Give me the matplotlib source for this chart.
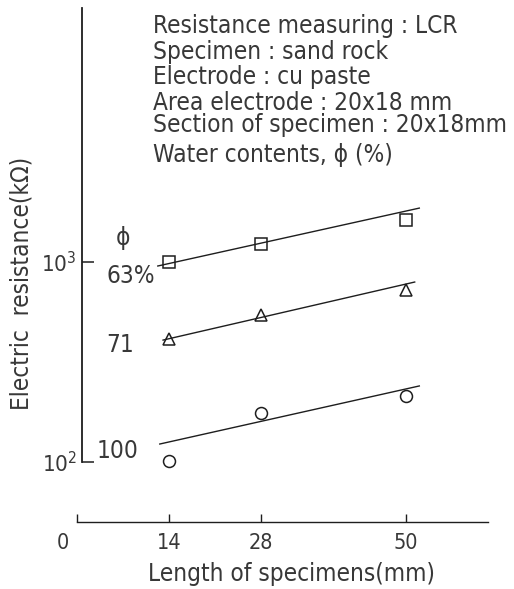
import matplotlib
matplotlib.use("Agg")
import matplotlib.pyplot as plt

# ---------------- data ----------------
lengths_mm = [14, 28, 50]
x_ticks = [0, 14, 28, 50]
x_tick_labels = ["", "14", "28", "50"]
y_ticks = [100, 1000]
y_tick_labels = [r"$\mathregular{10^2}$", r"$\mathregular{10^3}$"]

series_names = ["63%", "71", "100"]          # water content phi (%)
res_63 = [1000, 1230, 1630]                   # kOhm
res_71 = [412, 543, 724]
res_100 = [101, 176, 214]

# hand-drawn trend lines (start / end)
line_63_x = [12.3, 52.1]
line_63_r = [955, 1860]
line_71_x = [13.1, 51.4]
line_71_r = [407, 794]
line_100_x = [12.6, 52.1]
line_100_r = [123, 240]

info_lines = [
    "Resistance measuring : LCR",
    "Specimen : sand rock",
    "Electrode : cu paste",
    "Area electrode : 20x18 mm",
    "Section of specimen : 20x18mm",
    "Water contents, \u03d5 (%)",
]

# ---------------- style ----------------
W, H = 514, 589
INK = "#1e1e1e"
TXT = "#383838"
FONT = dict(family="DejaVu Sans", stretch="condensed")

plt.rcParams["font.family"] = ["DejaVu Sans"]
plt.rcParams["font.stretch"] = "condensed"

fig = plt.figure(figsize=(W / 100, H / 100), dpi=100)


def px(x, y):
    return x / W, 1 - y / H


ax_left, ax_right, ax_top, ax_bot = 77, 488, 8, 522
ax = fig.add_axes([ax_left / W, 1 - ax_bot / H, (ax_right - ax_left) / W, (ax_bot - ax_top) / H])
ax.patch.set_alpha(0)

px_per_mm = 6.57
ax.set_xlim(0, (ax_right - ax_left) / px_per_mm)
ax.set_yscale("log")
# 200 px per decade, 10^3 at y=262 px
ax.set_ylim(10 ** (3 - (ax_bot - 262) / 200), 10 ** (3 + (262 - ax_top) / 200))

for s in ("top", "right"):
    ax.spines[s].set_visible(False)
ax.spines["left"].set_position(("data", 0.8))
ax.spines["left"].set_bounds(100, ax.get_ylim()[1])
ax.spines["left"].set_linewidth(1.3)
ax.spines["left"].set_color(INK)
ax.spines["bottom"].set_bounds(0, ax.get_xlim()[1])
ax.spines["bottom"].set_linewidth(1.0)
ax.spines["bottom"].set_color(INK)

ax.set_xticks(x_ticks, labels=x_tick_labels)
ax.set_yticks(y_ticks, labels=y_tick_labels)
ax.yaxis.set_minor_locator(matplotlib.ticker.NullLocator())
ax.tick_params(axis="x", direction="in", length=6, width=1.0, color=INK, pad=8,
               labelsize=15.5, labelcolor=TXT)
ax.tick_params(axis="y", direction="in", length=8.5, width=1.1, color=INK, pad=4,
               labelsize=16, labelcolor=TXT)
for lab in ax.get_xticklabels() + ax.get_yticklabels():
    lab.set_fontstretch("condensed")

# "0" label sits left of its tick in the reference
ax.annotate("0", xy=(0, 0), xycoords=("data", "axes fraction"), xytext=(-14, -11),
            textcoords="offset pixels", ha="center", va="top", fontsize=15.5, color=TXT, **FONT)

# ---------------- marks ----------------
mk = dict(linestyle="none", markerfacecolor="none", markeredgecolor=INK,
          markeredgewidth=1.1, markersize=8.6, clip_on=False)
ax.plot(lengths_mm, res_63, marker="s", **mk)
ax.plot(lengths_mm, res_71, marker="^", **{**mk, "markersize": 9.2})
ax.plot(lengths_mm, res_100, marker="o", **mk)

ln = dict(color=INK, linewidth=1.0, clip_on=False)
ax.plot(line_63_x, line_63_r, **ln)
ax.plot(line_71_x, line_71_r, **ln)
ax.plot(line_100_x, line_100_r, **ln)

# ---------------- texts ----------------
fs = 17.5
fig.text(*px(292, 574), "Length of specimens(mm)", ha="center", va="center",
         fontsize=fs, color=TXT, **FONT)
fig.text(*px(22, 283), "Electric  resistance(k\u03a9)", ha="center", va="center",
         rotation=90, fontsize=fs, color=TXT, **FONT)

baselines = [33, 59, 84, 110, 132, 162]
for t, yb in zip(info_lines, baselines):
    fig.text(*px(153, yb), t, ha="left", va="baseline", fontsize=fs, color=TXT, **FONT)

fig.text(*px(123, 238), "\u03d5", ha="center", va="center", fontsize=fs, color=TXT, **FONT)
fig.text(*px(106, 283), series_names[0], ha="left", va="baseline", fontsize=fs, color=TXT, **FONT)
fig.text(*px(106, 345), series_names[1], ha="left", va="center", fontsize=fs, color=TXT, **FONT)
fig.text(*px(97, 451), series_names[2], ha="left", va="center", fontsize=fs, color=TXT, **FONT)

fig.savefig("out.png", dpi=100, facecolor="white")
